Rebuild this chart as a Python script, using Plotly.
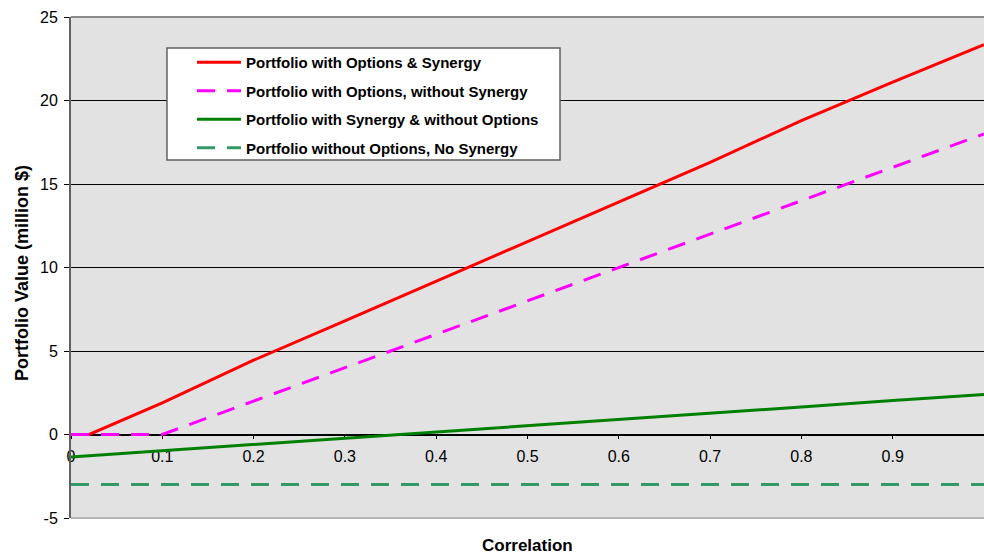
import plotly.graph_objects as go

# Correlation grid and portfolio values (million $)
corr = [0.0, 0.1, 0.2, 0.3, 0.4, 0.5, 0.6, 0.7, 0.8, 0.9, 1.0]
corr_red = [0.0, 0.02, 0.1, 0.2, 0.3, 0.4, 0.5, 0.6, 0.7, 0.8, 0.9, 1.0]
opt_syn = [0.0, 0.0, 1.9, 4.45, 6.8, 9.17, 11.55, 13.9, 16.3, 18.8, 21.1, 23.35]
opt_nosyn = [0.0, 0.0, 2.0, 4.0, 6.0, 8.0, 10.0, 12.0, 14.0, 16.0, 18.0]
syn_noopt = [-1.35, -0.98, -0.6, -0.23, 0.15, 0.53, 0.9, 1.28, 1.65, 2.03, 2.4]
noopt_nosyn = [-3.0] * len(corr)

names = [
    "Portfolio with Options & Synergy",
    "Portfolio with Options, without Synergy",
    "Portfolio with Synergy & without Options",
    "Portfolio without Options, No Synergy",
]
y_ticks = [-5, 0, 5, 10, 15, 20, 25]
x_ticks = [0, 0.1, 0.2, 0.3, 0.4, 0.5, 0.6, 0.7, 0.8, 0.9, 1]

FONT = "Liberation Sans, Arial, sans-serif"

fig = go.Figure()
series = [
    (corr_red, opt_syn, "#FF0000", "solid"),
    (corr, opt_nosyn, "#FF00FF", "18px,12px"),
    (corr, syn_noopt, "#008000", "solid"),
    (corr, noopt_nosyn, "#339966", "18px,12px"),
]
for i, (xs, ys, color, dash) in enumerate(series):
    fig.add_trace(go.Scatter(
        x=xs, y=ys, mode="lines", name=names[i], legendgroup=f"g{i}",
        line=dict(color=color, width=3, dash=dash),
    ))

fig.update_layout(
    width=984, height=554,
    margin=dict(l=71, r=0, t=17, b=36),
    paper_bgcolor="white",
    plot_bgcolor="#E2E2E2",
    font=dict(family=FONT, color="black", size=16),
    showlegend=True,
    legend=dict(
        x=0.1325, y=0.942, xanchor="left", yanchor="top",
        bgcolor="rgba(0,0,0,0)", borderwidth=0,
        font=dict(family=FONT, size=15, color="black", weight="bold"),
        traceorder="grouped", tracegroupgap=6, itemwidth=44,
    ),
    xaxis=dict(
        range=[0, 1], tickvals=x_ticks, ticktext=[f"{v:g}" for v in x_ticks],
        anchor="free", position=5 / 30, layer="below traces",
        showline=True, linecolor="black", linewidth=1.5,
        ticks="outside", ticklen=4, tickcolor="black",
        ticklabelstandoff=4,
        showgrid=False, zeroline=False,
        tickfont=dict(size=16),
    ),
    yaxis=dict(
        range=[-5, 25], tickvals=y_ticks, ticktext=[str(v) for v in y_ticks],
        showline=True, linecolor="#606060", linewidth=2,
        ticks="outside", ticklen=5, tickcolor="black",
        ticklabelstandoff=3,
        showgrid=True, gridcolor="black", gridwidth=1,
        zeroline=False,
        tickfont=dict(size=16),
    ),
    shapes=[
        # plot-area top and bottom frame
        dict(type="line", xref="paper", yref="paper", x0=0, x1=1, y0=1, y1=1,
             line=dict(color="#8A8A8A", width=2), layer="above"),
        dict(type="line", xref="paper", yref="paper", x0=0, x1=1, y0=0, y1=0,
             line=dict(color="#B5B5B5", width=2), layer="above"),
        # legend box
        dict(type="rect", xref="paper", yref="paper",
             x0=0.1051, x1=0.5356, y0=0.7146, y1=0.9381,
             fillcolor="white", line=dict(color="#606060", width=1.5), layer="above"),
    ],
    annotations=[
        dict(text="<b>Correlation</b>", xref="paper", yref="paper",
             x=0.5, y=-0.0539, xanchor="center", yanchor="middle",
             showarrow=False, font=dict(size=17, family=FONT)),
        dict(text="<b>Portfolio Value (million $)</b>", xref="paper", yref="paper",
             x=-0.0537, y=0.489, xanchor="center", yanchor="middle",
             textangle=-90, showarrow=False, font=dict(size=18, family=FONT)),
    ],
)

fig.write_html("out.html")
